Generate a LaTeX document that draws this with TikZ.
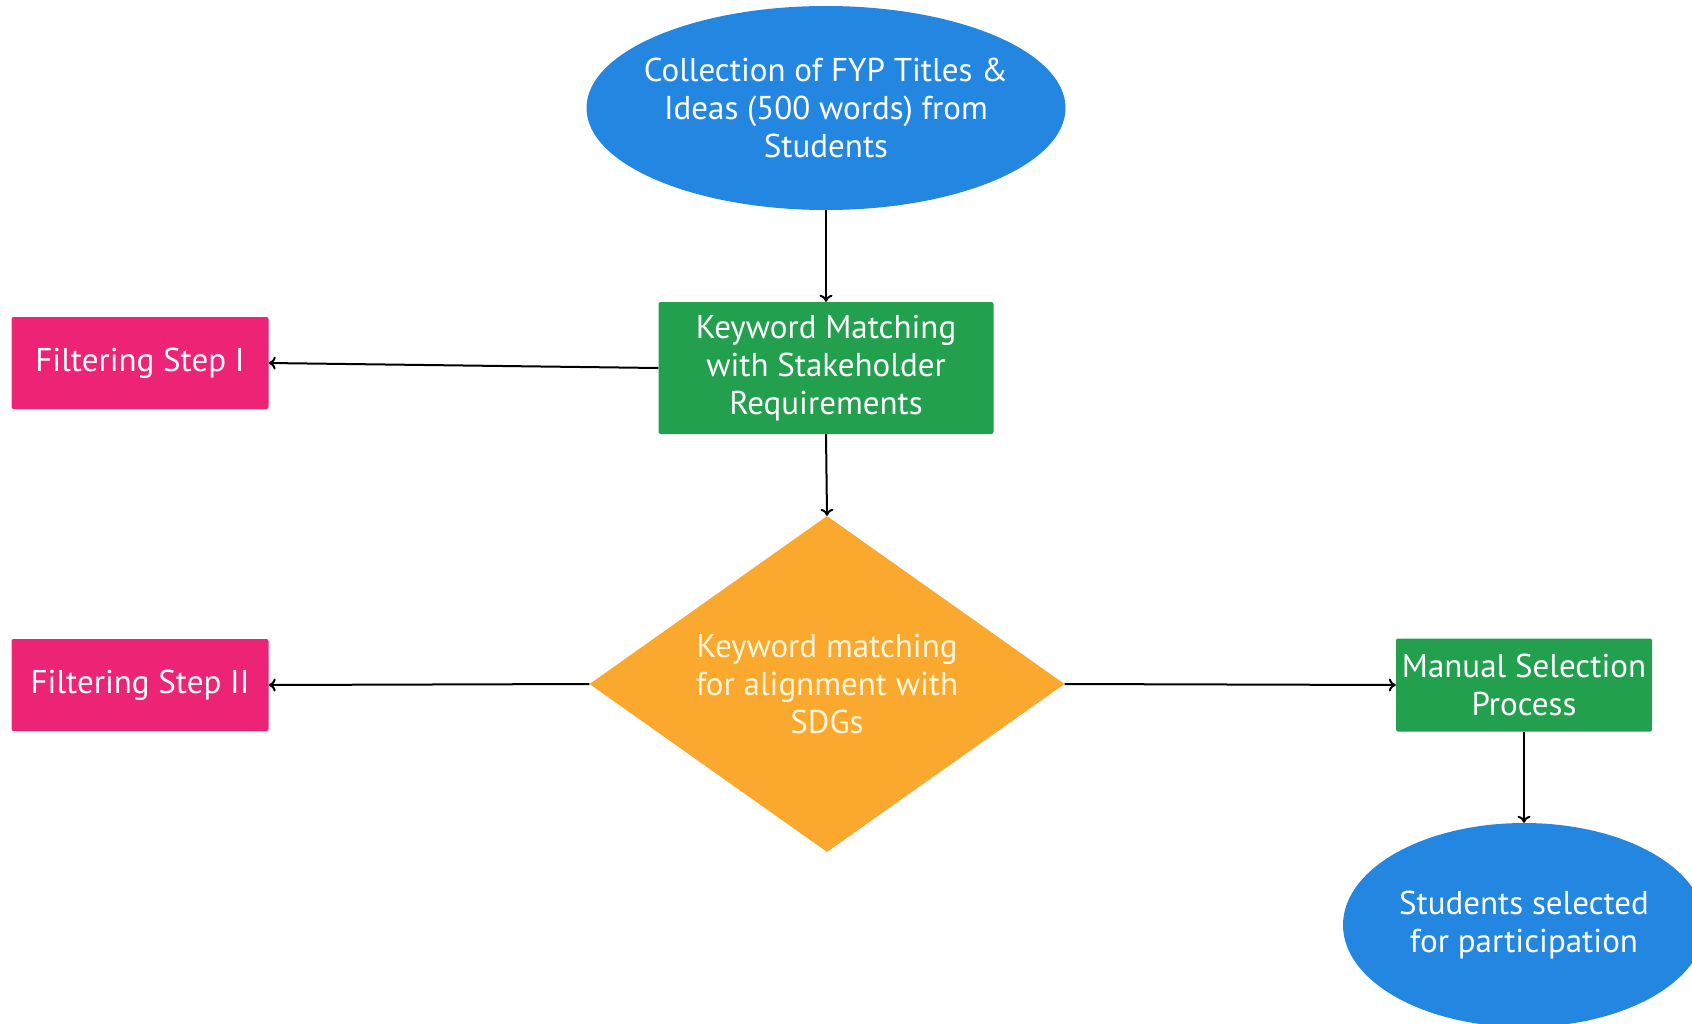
\documentclass[tikz,border=0pt]{standalone}
\usepackage{fontspec}
\setmainfont{PT Sans}
\usetikzlibrary{shapes.geometric,arrows.meta}
\definecolor{ovalblue}{RGB}{35,135,226}
\definecolor{boxgreen}{RGB}{34,160,78}
\definecolor{stepred}{RGB}{237,36,117}
\definecolor{sdgorange}{RGB}{250,168,46}
\definecolor{sdgtext}{RGB}{255,246,222}
\begin{document}
\begin{tikzpicture}[x=1pt,y=-1pt,
    txt/.style={text=white,font=\fontsize{33}{38}\selectfont,align=center,inner sep=0pt},
    oval/.style={ellipse,fill=ovalblue,txt,inner xsep=-22pt},
    greenbox/.style={rectangle,rounded corners=2pt,fill=boxgreen,txt},
    stepbox/.style={rectangle,rounded corners=2pt,fill=stepred,txt,minimum width=257pt,minimum height=92pt},
    choice/.style={diamond,aspect=1.45,fill=sdgorange,txt,text=sdgtext,inner xsep=-25pt,inner ysep=-12pt},
    flow/.style={line width=2pt,-{To[length=7pt,width=13pt]}}]
    \clip (0,0) rectangle (1692,1023);
    \coordinate (C) at (826,108);  \node[oval,minimum width=479pt,minimum height=204pt] (collect) at (C) {Collection of FYP Titles \&\\Ideas (500 words) from\\Students};
    \coordinate (K) at (826,368);  \node[greenbox,minimum width=335pt,minimum height=132pt] (kwstake) at (K) {Keyword Matching\\with Stakeholder\\Requirements};
    \coordinate (F1) at (140,363); \node[stepbox] (filt1) at (F1) {Filtering Step I};
    \coordinate (S) at (827,684);  \node[choice,minimum width=475pt,minimum height=336pt] (sdg) at (S) {Keyword matching\\for alignment with\\SDGs};
    \coordinate (F2) at (140,685); \node[stepbox] (filt2) at (F2) {Filtering Step II};
    \coordinate (M) at (1524,685); \node[greenbox,minimum width=256pt,minimum height=93pt] (manual) at (M) {Manual Selection\\Process};
    \coordinate (P) at (1524,925); \node[oval,minimum width=362pt,minimum height=204pt] (picked) at (P) {Students selected\\for participation};
    \draw[flow] (collect.south) -- (kwstake.north);
    \draw[flow] (kwstake.west) -- (filt1.east);
    \draw[flow] (kwstake.south) -- (sdg.north);
    \draw[flow] (sdg.west) -- (filt2.east);
    \draw[flow] (sdg.east) -- (manual.west);
    \draw[flow] (manual.south) -- (picked.north);
  \end{tikzpicture}
\end{document}
